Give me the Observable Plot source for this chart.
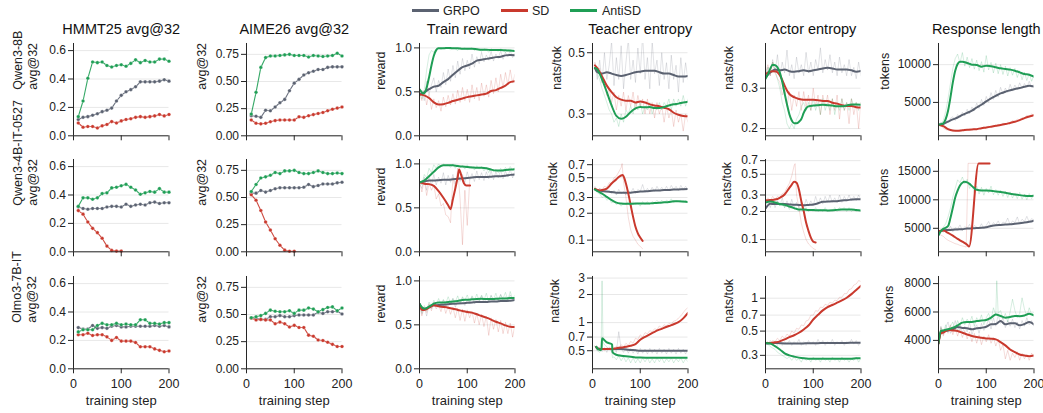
<!DOCTYPE html>
<html><head><meta charset="utf-8">
<script src="https://cdn.jsdelivr.net/npm/d3@7"></script>
<script src="https://cdn.jsdelivr.net/npm/@observablehq/plot@0.6"></script>
<style>
body{margin:0;background:#fff;}
#fig{position:relative;width:1043px;height:413px;overflow:hidden;background:#fff;font-family:"Liberation Sans",Arial,sans-serif;}
.cell{position:absolute;}
.leg{position:absolute;font-size:12.5px;color:#222;line-height:1;transform:translateY(-50%);white-space:nowrap;}
.legline{position:absolute;height:3px;}
</style></head>
<body><div id="fig"></div>
<script>
// ---------- step grids ----------
const S10 = [0,10,20,30,40,50,60,70,80,90,100,110,120,130,140,150,160,170,180,190,200];
const S5 = [0,5,10,15,20,25,30,35,40,45,50,55,60,65,70,75,80,85,90,95,100,105,110,115,120,125,130,135,140,145,150,155,160,165,170,175,180,185,190,195,200];
const S5b = [5,10,15,20,25,30,35,40,45,50,55,60,65,70,75,80,85,90,95,100,105,110,115,120,125,130,135,140,145,150,155,160,165,170,175,180,185,190,195,200];
const T10 = [5,10,20,30,40,50,60,70,80,90,100,110,120,130,140,150,160,170,180,190,200];
const T8 = [8,10,20,30,40,50,60,70,80,90,100,110,120,130,140,150,160,170,180,190,200];
const E10 = [10,20,30,40,50,60,70,80,90,100,110,120,130,140,150,160,170,180,190,200];
const X3 = [0,5,10,20,30,40,50,60,70,80,90,100,110,120,130,140,150,160,170,180,190,200];

// ---------- Row 1: Qwen3-8B ----------
const hmmt1_grpo = [.115,.13,.135,.145,.155,.17,.18,.195,.245,.285,.31,.325,.345,.38,.38,.38,.38,.385,.395,.385];
const hmmt1_sd   = [.09,.06,.065,.065,.055,.07,.08,.10,.09,.105,.115,.12,.13,.135,.13,.135,.14,.15,.14,.15];
const hmmt1_anti = [.135,.245,.405,.52,.515,.52,.495,.485,.495,.50,.49,.51,.535,.515,.53,.52,.52,.54,.54,.525];
const aime1_grpo = [.185,.18,.17,.235,.23,.265,.305,.335,.415,.485,.52,.56,.58,.595,.61,.61,.63,.635,.635,.635];
const aime1_sd   = [.145,.115,.11,.115,.13,.14,.145,.145,.145,.145,.175,.17,.185,.195,.205,.215,.23,.245,.255,.265];
const aime1_anti = [.20,.40,.63,.72,.735,.735,.74,.745,.75,.74,.74,.74,.725,.74,.735,.73,.735,.74,.76,.735];

const rew1_grpo = [.47,.495,.53,.56,.57,.61,.645,.695,.74,.78,.80,.82,.855,.865,.875,.885,.895,.90,.915,.92,.915];
const rew1_sd   = [.47,.46,.43,.38,.355,.36,.375,.395,.41,.425,.44,.45,.46,.47,.48,.51,.52,.545,.57,.61,.62];
const rew1_anti_x = [0,4,8,12,16,20,25,30,35,40,50,60,70,80,90,100,110,120,130,140,150,160,170,180,190,200];
const rew1_anti = [.53,.50,.48,.50,.57,.665,.80,.91,.975,.995,.995,1.0,.995,.995,.99,.99,.99,.985,.98,.98,.975,.975,.975,.972,.97,.965];
const rew1_grpo_raw = [.45,.52,.40,.62,.48,.58,.66,.50,.63,.55,.72,.58,.76,.62,.80,.66,.85,.70,.88,.74,.86,.76,.93,.78,.90,.82,.95,.84,.92,.86,.96,.85,.93,.88,.97,.87,.95,.90,.97,.89,.94];
const rew1_sd_raw   = [.48,.40,.52,.35,.48,.30,.42,.32,.40,.28,.44,.33,.46,.35,.48,.36,.52,.38,.55,.40,.53,.38,.58,.42,.55,.40,.60,.45,.58,.44,.63,.48,.66,.50,.70,.55,.72,.58,.75,.60,.70];
const rew1_anti_raw = [.55,.42,.52,.75,.92,.97,.95,.99,1.0,.98,1.0,.99,1.0,.98,1.0,.99,.97,1.0,.99,1.0,.98,.99,1.0,.97,.99,.98,.96,.99,.98,.95,.99,.97,.98,.96,.99,.97,.95,.98,.96,.97,.96];

const tent1_grpo = [.44,.425,.42,.425,.42,.415,.412,.415,.42,.425,.427,.43,.43,.43,.425,.42,.42,.415,.41,.41,.412];
const tent1_sd   = [.45,.44,.41,.38,.36,.345,.338,.335,.335,.33,.333,.33,.325,.322,.32,.316,.312,.303,.298,.295,.294];
const tent1_anti = [.44,.435,.40,.36,.322,.295,.288,.293,.305,.314,.318,.317,.318,.315,.315,.318,.322,.325,.327,.33,.332];
const tent1_grpo_raw = [.46,.40,.47,.39,.50,.40,.45,.55,.38,.48,.40,.53,.37,.46,.56,.40,.47,.39,.52,.42,.58,.40,.48,.37,.55,.42,.47,.38,.50,.40,.46,.37,.49,.40,.45,.36,.48,.39,.46,.40];
const tent1_sd_raw   = [.46,.43,.44,.39,.40,.35,.37,.33,.36,.31,.35,.32,.36,.31,.35,.32,.36,.31,.35,.32,.34,.30,.34,.30,.33,.29,.33,.30,.32,.28,.32,.29,.31,.27,.31,.28,.30,.26,.30,.28];
const tent1_anti_raw = [.45,.42,.40,.37,.35,.33,.31,.30,.28,.29,.27,.30,.28,.31,.30,.32,.30,.33,.31,.33,.30,.32,.31,.33,.30,.32,.31,.33,.31,.33,.32,.34,.31,.34,.32,.34,.32,.35,.32,.34];

const aent1_grpo = [.334,.351,.362,.359,.362,.356,.354,.356,.359,.356,.359,.362,.366,.368,.366,.362,.362,.362,.359,.354,.357];
const aent1_sd_x = [0,10,20,25,30,35,40,45,50,60,70,80,90,100,110,120,130,140,150,160,170,180,190,200];
const aent1_sd   = [.345,.355,.356,.352,.342,.326,.308,.293,.283,.274,.269,.267,.267,.267,.266,.264,.264,.259,.257,.253,.251,.251,.248,.247];
const aent1_anti_x = [0,5,10,15,20,25,30,35,40,45,50,55,60,65,70,75,80,85,90,100,110,120,130,140,150,160,170,180,190,200];
const aent1_anti = [.33,.345,.365,.38,.378,.37,.351,.32,.285,.255,.231,.217,.211,.211,.214,.22,.234,.245,.25,.252,.253,.254,.253,.252,.25,.25,.252,.255,.255,.254];
const aent1_grpo_raw = [.33,.37,.34,.40,.35,.42,.34,.39,.35,.44,.34,.38,.33,.41,.35,.38,.34,.43,.35,.39,.34,.40,.36,.45,.35,.40,.36,.42,.35,.39,.34,.41,.35,.38,.34,.40,.34,.37,.33,.39,.34];
const aent1_sd_raw   = [.35,.38,.34,.39,.35,.33,.32,.28,.30,.25,.29,.24,.28,.25,.29,.24,.29,.25,.28,.24,.30,.25,.28,.23,.28,.25,.28,.23,.27,.24,.28,.22,.27,.24,.26,.21,.27,.23,.26,.20,.26];
const aent1_anti_raw = [.34,.37,.36,.39,.36,.33,.30,.26,.24,.21,.20,.21,.20,.22,.23,.25,.26,.24,.26,.24,.27,.24,.26,.23,.27,.24,.26,.24,.27,.23,.26,.24,.27,.24,.26,.24,.27,.25,.26,.24,.26];

const len1_grpo = [2035,2150,2450,2750,3000,3350,3620,3900,4330,4690,5130,5530,5880,6190,6420,6600,6770,6900,7080,7200,7100];
const len1_sd   = [2035,1850,1460,1280,1250,1300,1370,1420,1460,1580,1680,1790,1900,2000,2130,2280,2430,2650,2920,3140,3320];
const len1_anti_x = [0,10,15,20,25,30,35,40,45,50,60,70,80,90,100,110,120,130,140,150,160,170,180,190,200];
const len1_anti = [2035,2210,2790,3900,5660,7650,9200,10090,10400,10400,10220,10000,9960,9735,9870,9780,9650,9510,9420,9340,9200,8980,8760,8670,8400];
const len1_grpo_raw = [2000,2400,2100,2700,2300,2900,3100,2600,3400,3000,3700,3200,4100,3500,4400,3900,4900,4200,5400,4600,5800,5000,6300,5400,6600,5700,7000,6100,6900,6300,7400,6500,7300,6700,7600,6800,7500,7000,7800,7000,7400];
const len1_sd_raw   = [2000,1900,1600,1400,1300,1350,1200,1300,1250,1400,1300,1450,1350,1500,1400,1550,1450,1650,1550,1750,1650,1850,1750,1950,1850,2100,1950,2250,2100,2400,2250,2600,2400,2800,2600,3000,2850,3300,3050,3500,3200];
const len1_anti_raw = [2000,2200,2600,3800,5500,7500,9500,10800,11400,10200,11600,9800,11000,9600,10800,9400,10600,9200,10400,9000,11200,9300,10300,8900,10200,8800,10000,8700,9800,8500,9600,8600,9500,8300,9200,8000,9000,7900,8800,7800,8600];

// ---------- Row 2: Qwen3-4B-IT-0527 ----------
const hmmt2_grpo = [.315,.305,.30,.305,.305,.305,.315,.32,.32,.315,.335,.32,.33,.335,.33,.345,.35,.34,.345,.345];
const hmmt2_sd   = [.29,.265,.21,.165,.135,.095,.04,.01,.005,.005];
const hmmt2_anti = [.32,.38,.38,.37,.38,.41,.415,.45,.455,.465,.475,.455,.435,.405,.415,.425,.42,.445,.42,.42];
const aime2_grpo = [.54,.54,.565,.55,.565,.58,.59,.59,.59,.59,.59,.595,.62,.60,.61,.625,.625,.625,.635,.64];
const aime2_sd   = [.525,.475,.38,.275,.20,.12,.06,.015,.005,.005];
const aime2_anti = [.555,.62,.68,.69,.705,.73,.72,.745,.745,.75,.73,.72,.72,.73,.745,.73,.72,.72,.725,.72];

const rew2_grpo = [.79,.80,.81,.81,.815,.82,.82,.825,.83,.835,.84,.845,.85,.85,.85,.855,.86,.86,.865,.875,.88];
const rew2_anti = [.79,.81,.86,.91,.96,.985,.985,.985,.975,.97,.965,.96,.955,.955,.95,.935,.925,.925,.93,.935,.94];
const rew2_sd_x = [0,10,20,30,40,50,60,65,70,75,80,83,88,93,98,106];
const rew2_sd   = [.79,.775,.77,.75,.69,.615,.53,.485,.60,.72,.85,.935,.86,.78,.755,.755];
const rew2_grpo_raw = [.78,.72,.85,.70,.86,.75,.88,.76,.85,.78,.90,.76,.87,.79,.88,.77,.90,.80,.88,.79,.91,.81,.89,.80,.92,.82,.90,.81,.91,.83,.92,.82,.91,.84,.93,.83,.92,.85,.94,.84,.92];
const rew2_anti_raw = [.80,.76,.88,.84,.95,.90,.99,.95,1.0,.97,1.0,.98,.99,.96,1.0,.95,.99,.96,.98,.94,.99,.95,.97,.93,.98,.94,.97,.92,.96,.90,.95,.91,.94,.90,.95,.91,.96,.92,.97,.93,.96];
const rew2_sd_raw_x = [0,5,10,15,20,25,30,35,40,45,50,55,60,65,70,75,80,85,90,95,100,105];
const rew2_sd_raw   = [.80,.68,.82,.64,.78,.70,.76,.60,.66,.52,.55,.42,.40,.33,.85,.70,.95,.60,.08,.70,.30,.80];

const tent2_grpo = [.37,.36,.355,.35,.346,.34,.34,.34,.34,.345,.35,.352,.355,.359,.36,.365,.365,.37,.37,.372,.373];
const tent2_anti = [.37,.355,.332,.305,.28,.263,.257,.255,.255,.257,.257,.257,.258,.26,.262,.265,.268,.272,.272,.27,.268];
const tent2_sd_x = [5,10,15,20,30,40,50,55,60,63,67,70,75,80,85,90,95,100,105];
const tent2_sd   = [.375,.365,.36,.365,.378,.43,.48,.51,.53,.535,.488,.43,.332,.246,.182,.141,.119,.107,.098];
const tent2_grpo_raw = [.40,.35,.38,.33,.37,.34,.36,.33,.36,.32,.37,.33,.35,.32,.36,.34,.38,.33,.37,.35,.42,.34,.38,.35,.39,.35,.40,.36,.39,.36,.40,.36,.41,.37,.40,.36,.41,.37,.40,.37];
const tent2_anti_raw = [.38,.34,.33,.30,.31,.28,.29,.26,.27,.25,.26,.24,.26,.25,.27,.24,.27,.25,.26,.24,.27,.25,.27,.25,.27,.26,.28,.26,.28,.26,.28,.27,.29,.26,.28,.27,.28,.26,.28,.26];
const tent2_sd_raw_x = [5,10,15,20,25,30,35,40,45,50,55,60,62,65,70,75,80,85,90,95,100,105];
const tent2_sd_raw   = [.39,.36,.38,.37,.40,.39,.44,.43,.50,.52,.58,.65,.72,.45,.30,.18,.13,.11,.10,.09,.085,.08];

const aent2_grpo = [.215,.242,.24,.24,.24,.238,.236,.235,.233,.235,.237,.245,.254,.255,.258,.258,.262,.264,.268,.271,.27];
const aent2_anti = [.25,.255,.25,.24,.236,.226,.217,.21,.21,.207,.207,.206,.206,.205,.206,.208,.21,.21,.21,.207,.205];
const aent2_sd_x = [0,10,20,30,40,50,55,60,65,70,75,80,85,90,95,100,105];
const aent2_sd   = [.262,.265,.268,.28,.304,.358,.388,.415,.405,.344,.258,.202,.152,.124,.105,.095,.093];
const aent2_grpo_raw = [.21,.26,.22,.27,.22,.26,.23,.28,.22,.26,.22,.27,.22,.25,.22,.26,.22,.27,.23,.26,.23,.29,.24,.28,.24,.29,.25,.30,.25,.28,.25,.30,.25,.29,.26,.30,.26,.29,.26,.30,.27];
const aent2_anti_raw = [.25,.27,.24,.27,.24,.26,.23,.25,.22,.24,.21,.23,.21,.22,.20,.22,.20,.22,.20,.21,.20,.22,.20,.21,.20,.22,.20,.21,.20,.22,.20,.22,.21,.22,.20,.22,.20,.21,.20,.21,.20];
const aent2_sd_raw_x = [0,5,10,15,20,25,30,35,40,45,50,55,60,62,65,70,75,80,85,90,95,100,105];
const aent2_sd_raw   = [.26,.28,.26,.29,.27,.29,.28,.31,.32,.36,.40,.48,.62,.65,.30,.22,.15,.12,.10,.09,.085,.08,.078];

const len2_grpo = [4400,4650,4700,4750,4800,4850,4950,5000,5050,5100,5200,5400,5550,5600,5650,5700,5800,5900,6000,6150,6350];
const len2_anti_x = [0,5,10,15,20,25,30,35,40,45,50,55,60,65,70,75,80,90,100,110,120,130,140,150,160,170,180,190,200];
const len2_anti = [3800,4500,4900,5100,5400,6800,8600,10400,11600,12500,13000,13150,13050,12800,12400,12050,11750,11650,11650,11600,11470,11350,11230,11060,10940,10820,10700,10650,10700];
const len2_sd_x = [0,10,20,30,40,50,60,64,84,107];
const len2_sd   = [4500,4600,4200,3700,3150,2650,2100,1800,16350,16350];
const len2_grpo_raw = [3800,4800,4300,5000,4600,5400,4400,5100,4900,5600,4600,5300,5000,5700,4800,5500,5200,5000,5800,4900,5500,6200,5300,6000,5600,6300,5400,6100,5900,6800,5600,6300,6000,7000,5800,6600,6200,7100,6100,6700,6400];
const len2_anti_raw = [3600,4600,5200,5800,7000,8500,10500,12000,13500,13000,14000,12800,13600,12000,12600,11200,12400,11000,12200,10800,12000,11200,12400,10900,11800,10800,11700,10600,11500,10400,11400,10300,11200,10200,11300,10100,11000,10000,11100,10200,10900];
const len2_sd_raw_x = [0,5,10,15,20,25,30,35,40,45,50,55,58,62,70,80,90,100,107];
const len2_sd_raw   = [4200,3800,3600,3200,2900,2700,2500,2300,2200,2000,1900,1800,1700,16400,16400,16400,16400,16400,16400];

// ---------- Row 3: Olmo3-7B-IT ----------
const hmmt3_grpo = [.29,.28,.28,.305,.285,.29,.285,.30,.305,.295,.295,.30,.30,.30,.30,.30,.305,.30,.305,.295];
const hmmt3_sd   = [.24,.24,.25,.235,.24,.24,.225,.20,.22,.195,.195,.195,.185,.155,.155,.155,.14,.13,.12,.125];
const hmmt3_anti = [.26,.275,.275,.275,.305,.32,.31,.31,.32,.31,.315,.31,.31,.345,.345,.32,.32,.315,.325,.325];
const aime3_grpo = [.47,.465,.455,.455,.48,.48,.49,.48,.48,.49,.495,.495,.495,.495,.52,.51,.525,.525,.53,.505];
const aime3_sd   = [.465,.45,.455,.45,.45,.415,.43,.415,.385,.40,.38,.38,.31,.30,.265,.26,.245,.225,.205,.205];
const aime3_anti = [.47,.48,.49,.51,.54,.53,.525,.525,.535,.51,.54,.54,.56,.55,.525,.545,.565,.57,.535,.56];

const rew3_grpo = [.74,.69,.68,.70,.722,.725,.73,.735,.74,.742,.745,.75,.755,.76,.76,.76,.765,.765,.77,.772,.775,.783];
const rew3_sd   = [.73,.669,.67,.696,.722,.71,.703,.695,.684,.67,.658,.646,.639,.62,.60,.582,.56,.535,.517,.494,.478,.475];
const rew3_anti = [.74,.70,.684,.707,.741,.753,.755,.76,.765,.772,.783,.785,.79,.795,.797,.793,.793,.797,.80,.80,.806,.805];
const rew3_grpo_raw = [.75,.62,.70,.60,.73,.68,.76,.70,.74,.69,.78,.71,.76,.73,.80,.70,.77,.74,.81,.72,.78,.75,.82,.74,.79,.76,.83,.75,.80,.77,.84,.76,.81,.78,.85,.77,.82,.78,.84,.79,.81];
const rew3_sd_raw   = [.73,.60,.70,.64,.74,.66,.75,.68,.72,.65,.74,.63,.71,.62,.70,.58,.69,.55,.68,.54,.67,.58,.65,.52,.63,.50,.62,.48,.60,.38,.58,.45,.56,.42,.55,.40,.53,.40,.52,.36,.50];
const rew3_anti_raw = [.74,.64,.72,.66,.76,.70,.78,.72,.80,.73,.79,.74,.82,.75,.80,.76,.83,.75,.82,.78,.84,.76,.83,.78,.85,.77,.84,.78,.86,.76,.83,.79,.86,.77,.84,.80,.87,.78,.88,.79,.84];

const tent3_grpo = [.545,.53,.52,.52,.52,.52,.52,.515,.51,.505,.50,.50,.50,.50,.50,.50,.50,.50,.50,.50,.50];
const tent3_sd   = [.55,.53,.52,.52,.52,.533,.54,.552,.565,.589,.655,.704,.75,.797,.84,.88,.92,.96,1.01,1.11,1.27];
const tent3_anti_x = [8,12,17,19,20,22,30,40,41,42,50,60,70,80,90,100,120,140,160,180,200];
const tent3_anti = [.55,.52,.51,.53,.68,.67,.614,.59,.58,.48,.453,.442,.435,.43,.424,.422,.42,.42,.42,.42,.42];
const tent3_grpo_raw = [.56,.50,.55,.49,.54,.48,.55,.49,.53,.48,.80,.52,.48,.54,.47,.53,.47,.52,.46,.53,.47,.52,.46,.53,.47,.52,.46,.53,.47,.52,.46,.53,.47,.52,.46,.53,.47,.52,.46,.52];
const tent3_sd_raw   = [.56,.52,.50,.53,.50,.54,.51,.55,.52,.56,.53,.58,.55,.60,.57,.63,.60,.68,.66,.74,.70,.78,.76,.82,.80,.86,.84,.92,.88,.95,.92,.98,.96,1.04,1.05,1.12,1.18,1.28,1.38,1.45];
const tent3_anti_raw_x = [5,10,15,18,20,22,25,30,35,40,42,45,50,55,60,65,70,75,80,85,90,95,100,105,110,115,120,125,130,135,140,145,150,155,160,165,170,175,180,185,190,195,200];
const tent3_anti_raw   = [.56,.50,.48,.50,2.8,.62,.58,.55,.52,.50,.42,.43,.40,.44,.39,.43,.38,.42,.37,.42,.37,.41,.37,.42,.38,.42,.37,.41,.37,.42,.38,.42,.37,.41,.38,.42,.37,.41,.38,.42,.37,.41,.38];

const aent3_grpo = [.385,.388,.39,.388,.386,.386,.385,.385,.386,.387,.387,.388,.389,.39,.39,.39,.39,.39,.391,.392,.392];
const aent3_sd   = [.39,.39,.395,.403,.42,.441,.458,.483,.518,.563,.639,.705,.774,.83,.867,.91,.956,1.01,1.09,1.19,1.30];
const aent3_anti = [.39,.385,.364,.339,.313,.30,.292,.286,.282,.28,.28,.28,.28,.28,.28,.279,.279,.28,.28,.282,.282];
const aent3_grpo_raw = [.39,.38,.41,.37,.40,.37,.41,.37,.40,.38,.41,.37,.40,.38,.42,.37,.40,.37,.41,.38,.40,.37,.42,.38,.41,.37,.40,.38,.42,.37,.40,.38,.41,.37,.40,.38,.42,.38,.41,.37,.40];
const aent3_sd_raw   = [.39,.40,.38,.41,.40,.43,.41,.45,.43,.47,.45,.50,.48,.53,.52,.57,.56,.62,.63,.70,.70,.77,.76,.83,.82,.88,.86,.92,.90,.96,.95,1.02,1.02,1.10,1.10,1.20,1.22,1.32,1.35,1.45,1.42];
const aent3_anti_raw = [.39,.38,.36,.35,.34,.32,.31,.30,.29,.28,.29,.27,.29,.27,.28,.26,.29,.27,.28,.26,.29,.27,.28,.26,.29,.27,.28,.26,.29,.27,.28,.26,.29,.27,.28,.26,.28,.27,.29,.26,.28];

const len3_grpo = [3800,4600,4650,4700,4780,4940,4880,4850,4780,4850,4890,4960,5130,5150,5360,5130,5200,5200,5060,5150,5290,5130];
const len3_sd   = [3800,4500,4550,4730,4700,4660,4540,4420,4310,4240,4190,4140,4120,4070,3880,3650,3360,3180,3010,2940,2890,2940];
const len3_anti = [3800,4660,4700,4780,4890,5060,5250,5290,5300,5360,5400,5440,5600,5830,5720,5600,5650,5720,5700,5750,5880,5760];
const len3_grpo_raw = [3600,5000,4400,4900,5300,4500,4800,5400,4700,5100,4500,5000,4600,5300,4400,4900,5100,4500,5200,4700,5000,5500,4800,5600,5000,5800,5200,5600,4900,5400,5000,5500,4900,5300,4800,5400,5000,5600,5100,5400,5000];
const len3_sd_raw   = [3600,4900,4300,4800,4500,5100,4400,4900,4300,4800,4200,4700,4100,4600,3900,4500,3800,4400,3700,4300,3900,4400,3800,4200,3600,4100,3300,3700,2700,3300,2600,3100,2800,3200,2600,3100,2700,3000,2600,3100,2800];
const len3_anti_raw_x = [0,5,10,15,20,25,30,35,40,45,50,55,60,65,70,75,80,85,90,95,100,105,110,115,120,122,125,130,135,140,145,150,155,160,165,170,175,180,185,190,195,200];
const len3_anti_raw   = [3600,4900,4500,5100,4600,5000,5300,4700,5400,5000,5600,5100,5500,5200,5700,5000,5600,5300,5800,5100,5600,5900,5400,6300,5800,8200,5900,6100,5500,5900,5300,6000,6900,6100,5600,5900,7000,6200,5700,6300,5800,6000];

// ---------- labels ----------
const colTitles = ["HMMT25 avg@32","AIME26 avg@32","Train reward","Teacher entropy","Actor entropy","Response length"];
const rowModels = ["Qwen3-8B","Qwen3-4B-IT-0527","Olmo3-7B-IT"];
const seriesNames = ["GRPO","SD","AntiSD"];
const COLORS = ["#5b6271","#c9392d","#1f9e55"];

// ---------- layout ----------
const COLX = [72.5,245.5,418.5,591.5,764.5,937.5];
const ROWY = [42.7,159.2,275.7];
const PW = 95.5, PH = 92.3, ML = 80, MR = 6;
const FONT = '"Liberation Sans", Arial, sans-serif';

const f1 = d3.format(".1f"), f2 = d3.format(".2f"), fs = d => String(d);
const Y = {
  hmmt:{type:"linear",domain:[0,0.65],ticks:[0,.2,.4,.6],fmt:f1,label:"avg@32"},
  aime:{type:"linear",domain:[0,0.85],ticks:[0,.25,.5,.75],fmt:f2,label:"avg@32"},
  rew:{type:"linear",domain:[0,1.05],ticks:[0,.5,1],fmt:f1,label:"reward"},
};

function L(x, y){ return x.slice(0, y.length).map((s,i)=>({s, v:y[i]})); }

const panels = [
  {row:0,col:0,kind:"acc",y:Y.hmmt,off:48.5,series:[[E10,hmmt1_grpo],[E10,hmmt1_sd],[E10,hmmt1_anti]]},
  {row:0,col:1,kind:"acc",y:Y.aime,off:45.5,series:[[E10,aime1_grpo],[E10,aime1_sd],[E10,aime1_anti]]},
  {row:0,col:2,kind:"line",y:Y.rew,off:39,series:[[S10,rew1_grpo,S5,rew1_grpo_raw],[S10,rew1_sd,S5,rew1_sd_raw],[rew1_anti_x,rew1_anti,S5,rew1_anti_raw]]},
  {row:0,col:3,kind:"line",y:{type:"log",domain:[0.25,0.54],ticks:[.3,.5],fmt:fs,label:"nats/tok"},off:36.7,series:[[T10,tent1_grpo,S5b,tent1_grpo_raw],[T10,tent1_sd,S5b,tent1_sd_raw],[T10,tent1_anti,S5b,tent1_anti_raw]]},
  {row:0,col:4,kind:"line",y:{type:"log",domain:[0.186,0.47],ticks:[.2,.3],fmt:fs,label:"nats/tok"},off:37.3,series:[[S10,aent1_grpo,S5,aent1_grpo_raw],[aent1_sd_x,aent1_sd,S5,aent1_sd_raw],[aent1_anti_x,aent1_anti,S5,aent1_anti_raw]]},
  {row:0,col:5,kind:"line",y:{type:"linear",domain:[580,12800],ticks:[5000,10000],fmt:fs,label:"tokens"},off:54.6,series:[[S10,len1_grpo,S5,len1_grpo_raw],[S10,len1_sd,S5,len1_sd_raw],[len1_anti_x,len1_anti,S5,len1_anti_raw]]},
  {row:1,col:0,kind:"acc",y:Y.hmmt,off:48.5,series:[[E10,hmmt2_grpo],[E10,hmmt2_sd],[E10,hmmt2_anti]]},
  {row:1,col:1,kind:"acc",y:Y.aime,off:45.7,series:[[E10,aime2_grpo],[E10,aime2_sd],[E10,aime2_anti]]},
  {row:1,col:2,kind:"line",y:Y.rew,off:39,series:[[S10,rew2_grpo,S5,rew2_grpo_raw],[rew2_sd_x,rew2_sd,rew2_sd_raw_x,rew2_sd_raw],[S10,rew2_anti,S5,rew2_anti_raw]]},
  {row:1,col:3,kind:"line",y:{type:"log",domain:[0.074,0.8],ticks:[.1,.2,.3,.5,.7],fmt:fs,label:"nats/tok"},off:40,series:[[T10,tent2_grpo,S5b,tent2_grpo_raw],[tent2_sd_x,tent2_sd,tent2_sd_raw_x,tent2_sd_raw],[T10,tent2_anti,S5b,tent2_anti_raw]]},
  {row:1,col:4,kind:"line",y:{type:"log",domain:[0.074,0.72],ticks:[.1,.2,.3,.5,.7],fmt:fs,label:"nats/tok"},off:39,series:[[S10,aent2_grpo,S5,aent2_grpo_raw],[aent2_sd_x,aent2_sd,aent2_sd_raw_x,aent2_sd_raw],[S10,aent2_anti,S5,aent2_anti_raw]]},
  {row:1,col:5,kind:"line",y:{type:"linear",domain:[880,17070],ticks:[5000,10000,15000],fmt:fs,label:"tokens"},off:55.6,series:[[S10,len2_grpo,S5,len2_grpo_raw],[len2_sd_x,len2_sd,len2_sd_raw_x,len2_sd_raw],[len2_anti_x,len2_anti,S5,len2_anti_raw]]},
  {row:2,col:0,kind:"acc",y:Y.hmmt,off:50,series:[[E10,hmmt3_grpo],[E10,hmmt3_sd],[E10,hmmt3_anti]]},
  {row:2,col:1,kind:"acc",y:Y.aime,off:45.5,series:[[E10,aime3_grpo],[E10,aime3_sd],[E10,aime3_anti]]},
  {row:2,col:2,kind:"line",y:Y.rew,off:39,series:[[X3,rew3_grpo,S5,rew3_grpo_raw],[X3,rew3_sd,S5,rew3_sd_raw],[X3,rew3_anti,S5,rew3_anti_raw]]},
  {row:2,col:3,kind:"line",y:{type:"log",domain:[0.32,3.12],ticks:[.5,.7,1,2,3],fmt:fs,label:"nats/tok"},off:38.4,series:[[T8,tent3_grpo,S5b,tent3_grpo_raw],[T8,tent3_sd,S5b,tent3_sd_raw],[tent3_anti_x,tent3_anti,tent3_anti_raw_x,tent3_anti_raw]]},
  {row:2,col:4,kind:"line",y:{type:"log",domain:[0.226,1.58],ticks:[.3,.5,.7,1],fmt:fs,label:"nats/tok"},off:37.3,series:[[S10,aent3_grpo,S5,aent3_grpo_raw],[S10,aent3_sd,S5,aent3_sd_raw],[S10,aent3_anti,S5,aent3_anti_raw]]},
  {row:2,col:5,kind:"line",y:{type:"linear",domain:[2000,8500],ticks:[4000,6000,8000],fmt:fs,label:"tokens"},off:50.6,series:[[X3,len3_grpo,S5,len3_grpo_raw],[X3,len3_sd,S5,len3_sd_raw],[X3,len3_anti,len3_anti_raw_x,len3_anti_raw]]},
];

const fig = document.getElementById("fig");
const AX = "#262626";

function build(p){
  const MT = p.row===0 ? 34 : 6;
  const MB = p.row===2 ? 46 : 10;
  const W = ML + PW + MR, H = MT + PH + MB;
  const marks = [];
  marks.push(Plot.ruleY(p.y.ticks, {stroke:"#e8e8e8", strokeWidth:1}));
  if (p.kind === "line") {
    p.series.forEach((s,i)=>{
      marks.push(Plot.line(L(s[2], s[3]), {x:"s", y:"v", stroke:COLORS[i], strokeOpacity:0.2, strokeWidth:0.9, clip:true}));
    });
    p.series.forEach((s,i)=>{
      marks.push(Plot.line(L(s[0], s[1]), {x:"s", y:"v", stroke:COLORS[i], strokeWidth:2, curve:"monotone-x", clip:true}));
    });
  } else {
    p.series.forEach((s,i)=>{
      const d = L(s[0], s[1]);
      marks.push(Plot.line(d, {x:"s", y:"v", stroke:COLORS[i], strokeWidth:1.1, strokeOpacity:0.9}));
      marks.push(Plot.dot(d, {x:"s", y:"v", fill:COLORS[i], r:1.8, stroke:"white", strokeWidth:0.3}));
    });
  }
  marks.push(Plot.ruleX([0], {stroke:AX, strokeWidth:1}));
  marks.push(Plot.ruleY([p.y.domain[0]], {stroke:AX, strokeWidth:1}));
  marks.push(Plot.ruleY(p.y.ticks, {x1:0, x2:0, insetLeft:-5, stroke:AX, strokeWidth:1}));
  marks.push(Plot.text(p.y.ticks, {y:d=>d, text:d=>p.y.fmt(d), frameAnchor:"left", dx:-7.5, textAnchor:"end", fontSize:12, fill:"#222"}));
  marks.push(Plot.axisX([0,100,200], {tickSize:5, tickPadding:5, tickFormat: p.row===2 ? (d=>String(d)) : (()=>""), fontSize:12.5, label:null, stroke:AX, fill:"#222"}));
  const ylab = p.col===0 ? rowModels[p.row] + "\n" + p.y.label : p.y.label;
  marks.push(Plot.text([ylab], {text:d=>d, frameAnchor:"left", rotate:-90, dx:-p.off, fontSize:12.5, lineHeight:1.2, lineAnchor:"middle", fill:"#222"}));
  if (p.row===0) marks.push(Plot.text([colTitles[p.col]], {text:d=>d, frameAnchor:"top", lineAnchor:"bottom", dy:-9.4, fontSize:14.5, fill:"#111"}));
  if (p.row===2) marks.push(Plot.text(["training step"], {text:d=>d, frameAnchor:"bottom", lineAnchor:"bottom", dy:36.3, fontSize:13, fill:"#222"}));
  const chart = Plot.plot({
    width:W, height:H, marginLeft:ML, marginRight:MR, marginTop:MT, marginBottom:MB,
    x:{domain:[0,200]}, y:{type:p.y.type, domain:p.y.domain, axis:null},
    style:{fontFamily:FONT, fontSize:"12px", overflow:"visible", background:"transparent", maxWidth:"none"},
    marks
  });
  const div = document.createElement("div");
  div.className = "cell";
  div.style.left = (COLX[p.col]-ML)+"px";
  div.style.top = (ROWY[p.row]-MT)+"px";
  div.style.width = W+"px";
  div.appendChild(chart);
  fig.appendChild(div);
}
panels.forEach(build);

const legPos = [{x:412,tx:443},{x:500.5,tx:532},{x:570,tx:602}];
seriesNames.forEach((n,i)=>{
  const ln = document.createElement("div");
  ln.className="legline"; ln.style.left=legPos[i].x+"px"; ln.style.top="8.8px"; ln.style.width="27px"; ln.style.background=COLORS[i];
  fig.appendChild(ln);
  const t = document.createElement("div");
  t.className="leg"; t.style.left=legPos[i].tx+"px"; t.style.top="10.5px"; t.textContent=n;
  fig.appendChild(t);
});
</script></body></html>
